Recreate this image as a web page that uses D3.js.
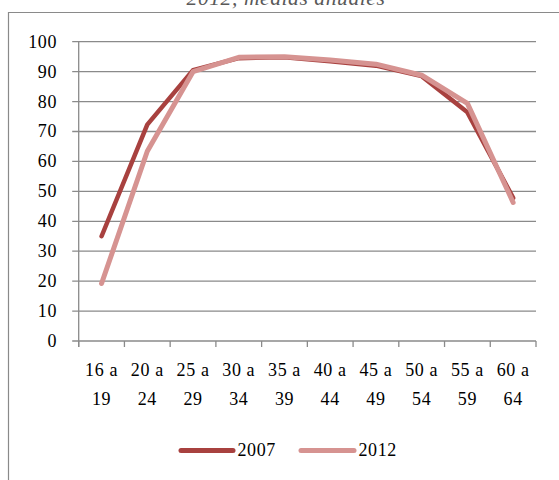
<!DOCTYPE html>
<html>
<head>
<meta charset="utf-8">
<script src="https://cdn.jsdelivr.net/npm/d3@7"></script>
<style>
  html, body { margin: 0; padding: 0; background: #fff; }
  svg { display: block; }
  text { font-family: "Liberation Serif", "Times New Roman", serif; letter-spacing: 0.6px; }
</style>
</head>
<body>
<svg id="chart" width="559" height="480"></svg>
<script>
const categories = [["16 a","19"],["20 a","24"],["25 a","29"],["30 a","34"],["35 a","39"],["40 a","44"],["45 a","49"],["50 a","54"],["55 a","59"],["60 a","64"]];
const seriesNames = ["2007", "2012"];
const values2007 = [35, 72.3, 90.5, 94.5, 94.8, 93.5, 92, 88.5, 76.4, 47.8];
const values2012 = [19.2, 63.4, 90, 94.8, 95, 93.9, 92.5, 88.8, 79.4, 46.3];
const yTicks = [0, 10, 20, 30, 40, 50, 60, 70, 80, 90, 100];
const titleText = "2012, medias anuales";
const colors = ["#a8413f", "#d69391"];

(function () {
const svg = d3.select("#chart");
const gridColor = "#8a8a8a";
const fs = 18;

// outer chart border
svg.append("path")
  .attr("d", "M8.5,480 L8.5,12.5 L559,12.5")
  .attr("fill", "none").attr("stroke", gridColor).attr("stroke-width", 1.2);

// partial title (cut off at the top, as in the reference)
svg.append("text")
  .attr("x", 286).attr("y", 4.5)
  .attr("text-anchor", "middle")
  .attr("font-style", "italic")
  .attr("font-size", 21.5)
  .attr("fill", "#595959")
  .text(titleText);

const pLeft = 78.7, pRight = 536, pTop = 41.7, pBottom = 341;
const x = d3.scaleBand().domain(d3.range(categories.length)).range([pLeft, pRight]).paddingInner(0).paddingOuter(0);
const y = d3.scaleLinear().domain([0, 100]).range([pBottom, pTop]);
const cx = i => x(i) + x.bandwidth() / 2;

// gridlines
svg.append("g").selectAll("line").data(yTicks).join("line")
  .attr("x1", pLeft - 6.5).attr("x2", pRight)
  .attr("y1", d => y(d)).attr("y2", d => y(d))
  .attr("stroke", gridColor).attr("stroke-width", 1.3);

// y axis line
svg.append("line").attr("x1", pLeft).attr("x2", pLeft).attr("y1", pTop).attr("y2", pBottom + 6)
  .attr("stroke", gridColor).attr("stroke-width", 1.3);

// x ticks at band boundaries
const boundaries = d3.range(categories.length + 1).map(i => i < categories.length ? x(i) : pRight);
svg.append("g").selectAll("line").data(boundaries).join("line")
  .attr("x1", d => d).attr("x2", d => d)
  .attr("y1", pBottom).attr("y2", pBottom + 6)
  .attr("stroke", gridColor).attr("stroke-width", 1.3);

// y labels
svg.append("g").selectAll("text").data(yTicks).join("text")
  .attr("x", 57).attr("y", d => y(d) + 6)
  .attr("text-anchor", "end")
  .attr("font-size", fs).attr("fill", "#000")
  .text(d => d);

// x labels
const xl = svg.append("g").selectAll("text").data(categories).join("text")
  .attr("text-anchor", "middle").attr("font-size", fs).attr("fill", "#000");
xl.append("tspan").attr("x", (d, i) => cx(i)).attr("y", 375.7).text(d => d[0]);
xl.append("tspan").attr("x", (d, i) => cx(i)).attr("y", 405).text(d => d[1]);

// lines
const line = d3.line().x((d, i) => cx(i)).y(d => y(d));
[values2007, values2012].forEach((vals, k) => {
  svg.append("path").datum(vals)
    .attr("d", line)
    .attr("fill", "none")
    .attr("stroke", colors[k])
    .attr("stroke-width", k === 0 ? 4.5 : 5)
    .attr("stroke-linejoin", "round")
    .attr("stroke-linecap", "round");
});

// legend
const legendPos = [{x1: 181, x2: 233, tx: 237.5}, {x1: 301, x2: 354, tx: 358.5}];
seriesNames.forEach((name, k) => {
  const p = legendPos[k];
  svg.append("line").attr("x1", p.x1).attr("x2", p.x2).attr("y1", 450.5).attr("y2", 450.5)
    .attr("stroke", colors[k]).attr("stroke-width", 5).attr("stroke-linecap", "round");
  svg.append("text").attr("x", p.tx).attr("y", 456)
    .attr("font-size", fs).attr("fill", "#000").text(name);
});
})();
</script>
</body>
</html>
